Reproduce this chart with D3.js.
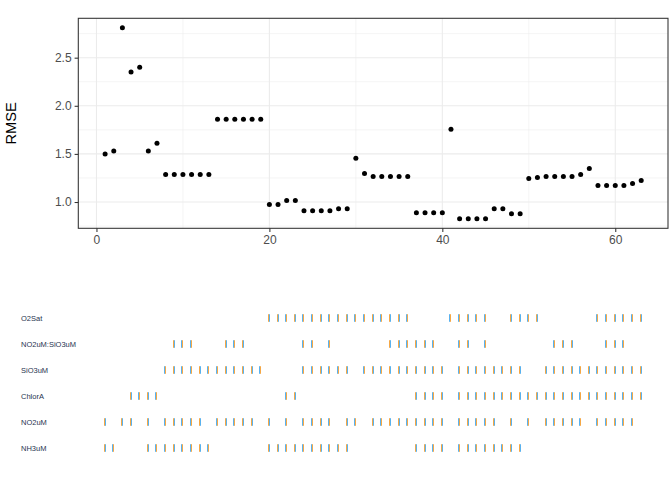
<!DOCTYPE html>
<html>
<head>
<meta charset="utf-8">
<script src="https://cdn.jsdelivr.net/npm/d3@7"></script>
<style>
  html, body { margin: 0; padding: 0; background: #ffffff; }
  svg { display: block; }
</style>
</head>
<body>
<svg id="chart" width="672" height="480"></svg>
<script>
// ---- data ----
const modelIndex = d3.range(1, 64);
const rmse = [
  1.50, 1.53, 2.81, 2.35, 2.40, 1.53, 1.61, 1.287, 1.287, 1.287,
  1.287, 1.287, 1.287, 1.86, 1.86, 1.86, 1.86, 1.86, 1.86, 0.973,
  0.973, 1.015, 1.015, 0.910, 0.910, 0.910, 0.910, 0.931, 0.931, 1.454,
  1.297, 1.266, 1.266, 1.266, 1.266, 1.266, 0.889, 0.889, 0.889, 0.889,
  1.757, 0.826, 0.826, 0.826, 0.826, 0.931, 0.931, 0.879, 0.879, 1.245,
  1.255, 1.266, 1.266, 1.266, 1.266, 1.287, 1.349, 1.172, 1.172, 1.172,
  1.172, 1.192, 1.224
];
const variables = ["O2Sat", "NO2uM:SiO3uM", "SiO3uM", "ChlorA", "NO2uM", "NH3uM"];
const O2Sat = [20,21,22,23,24,25,26,27,28,29,30,31,32,33,34,35,36,41,42,43,44,45,48,49,50,51,58,59,60,61,62,63];
const NO2uM_SiO3uM = [9,10,11,15,16,17,24,25,27,34,35,36,37,38,39,42,43,45,53,54,55,59,60,61];
const SiO3uM = [8,9,10,11,12,13,14,15,16,17,18,19,24,25,26,27,28,29,31,32,33,34,35,36,37,38,39,40,42,43,44,45,46,47,48,49,52,53,54,55,56,57,58,59,60,61,62,63];
const ChlorA = [4,5,6,7,22,23,37,38,39,40,42,43,44,45,46,47,48,49,50,51,52,53,54,55,56,57,58,59,60,61,62,63];
const NO2uM = [1,3,4,6,8,9,10,11,12,14,15,16,17,18,20,22,24,25,26,27,29,30,32,33,34,35,36,37,38,39,40,42,43,44,45,46,48,50,52,53,54,55,56,58,59,60,61,62];
const NH3uM = [1,2,6,7,8,9,10,11,12,13,20,21,22,23,24,25,26,27,28,29,37,38,39,40,42,43,44,45,46,47,48,49];
const membership = [O2Sat, NO2uM_SiO3uM, SiO3uM, ChlorA, NO2uM, NH3uM];
const xTicks = [0, 20, 40, 60];
const yTicks = [1.0, 1.5, 2.0, 2.5];
const yTickLabels = ["1.0", "1.5", "2.0", "2.5"];

// ---- layout ----
const svg = d3.select("#chart");
const panel = { left: 78.3, right: 668, top: 18.3, bottom: 228.3 };

const xPad = (63 - 1) * 0.05;
const x = d3.scaleLinear().domain([1 - xPad, 63 + xPad]).range([panel.left, panel.right]);
const yExt = d3.extent(rmse);
const yPad = (yExt[1] - yExt[0]) * 0.05;
const y = d3.scaleLinear().domain([yExt[0] - yPad, yExt[1] + yPad]).range([panel.bottom, panel.top]);

const g = svg.append("g");

// grid minor
const xMinor = [10, 30, 50];
const yMinor = [0.75, 1.25, 1.75, 2.25, 2.75];
g.selectAll(".xminor").data(xMinor).enter().append("line")
  .attr("x1", d => x(d)).attr("x2", d => x(d))
  .attr("y1", panel.top).attr("y2", panel.bottom)
  .attr("stroke", "#ebebeb").attr("stroke-width", 0.55);
g.selectAll(".yminor").data(yMinor).enter().append("line")
  .attr("x1", panel.left).attr("x2", panel.right)
  .attr("y1", d => y(d)).attr("y2", d => y(d))
  .attr("stroke", "#ebebeb").attr("stroke-width", 0.55);
// grid major
g.selectAll(".xmajor").data(xTicks).enter().append("line")
  .attr("x1", d => x(d)).attr("x2", d => x(d))
  .attr("y1", panel.top).attr("y2", panel.bottom)
  .attr("stroke", "#ebebeb").attr("stroke-width", 1.07);
g.selectAll(".ymajor").data(yTicks).enter().append("line")
  .attr("x1", panel.left).attr("x2", panel.right)
  .attr("y1", d => y(d)).attr("y2", d => y(d))
  .attr("stroke", "#ebebeb").attr("stroke-width", 1.07);

// points
g.selectAll(".pt").data(modelIndex).enter().append("circle")
  .attr("cx", d => x(d)).attr("cy", (d, i) => y(rmse[i]))
  .attr("r", 2.5).attr("fill", "#000000");

// panel border
g.append("rect")
  .attr("x", panel.left).attr("y", panel.top)
  .attr("width", panel.right - panel.left).attr("height", panel.bottom - panel.top)
  .attr("fill", "none").attr("stroke", "#333333").attr("stroke-width", 1.07);

// axes
const xAxis = d3.axisBottom(x).tickValues(xTicks).tickSize(3.7).tickPadding(3).tickFormat(d3.format("d"));
const gx = svg.append("g").attr("transform", `translate(0,${panel.bottom})`).call(xAxis);
gx.select(".domain").remove();
gx.selectAll(".tick line").attr("stroke", "#333333").attr("stroke-width", 1.07);
gx.selectAll(".tick text").attr("fill", "#4d4d4d").attr("font-size", "12px")
  .attr("font-family", "Liberation Sans, Arial, sans-serif");

const yAxis = d3.axisLeft(y).tickValues(yTicks).tickSize(3.7).tickPadding(3)
  .tickFormat((d, i) => yTickLabels[i]);
const gy = svg.append("g").attr("transform", `translate(${panel.left},0)`).call(yAxis);
gy.select(".domain").remove();
gy.selectAll(".tick line").attr("stroke", "#333333").attr("stroke-width", 1.07);
gy.selectAll(".tick text").attr("fill", "#4d4d4d").attr("font-size", "12px")
  .attr("font-family", "Liberation Sans, Arial, sans-serif");

// y title
svg.append("text")
  .attr("transform", `translate(15.5,${(panel.top + panel.bottom) / 2}) rotate(-90)`)
  .attr("text-anchor", "middle")
  .attr("font-family", "Liberation Sans, Arial, sans-serif")
  .attr("font-size", "14.7px").attr("fill", "#000000")
  .text("RMSE");

// ---- bottom membership panel ----
const row = d3.scaleBand().domain(variables).range([305, 461]).paddingInner(0).paddingOuter(0);
const rowCenter = v => row(v) + row.bandwidth() / 2;

const rows = svg.append("g");
variables.forEach((v, k) => {
  rows.append("text")
    .attr("x", 21).attr("y", rowCenter(v)).attr("dy", "0.35em")
    .attr("font-family", "Liberation Sans, Arial, sans-serif")
    .attr("font-size", "7.5px").attr("fill", "#27344f")
    .text(v);
  const gg = rows.append("g");
  membership[k].forEach(i => {
    const px = x(i);
    const base = Math.floor(px);
    const orangeFirst = (px - base) < 0.5;
    gg.append("rect")
      .attr("x", orangeFirst ? base - 1 : base).attr("y", rowCenter(v) - 3.8)
      .attr("width", 1).attr("height", 7.6).attr("fill", "#f5a846");
    gg.append("rect")
      .attr("x", orangeFirst ? base : base - 1).attr("y", rowCenter(v) - 3.8)
      .attr("width", 1).attr("height", 7.6).attr("fill", "#5ab2ef");
  });
});
</script>
</body>
</html>
